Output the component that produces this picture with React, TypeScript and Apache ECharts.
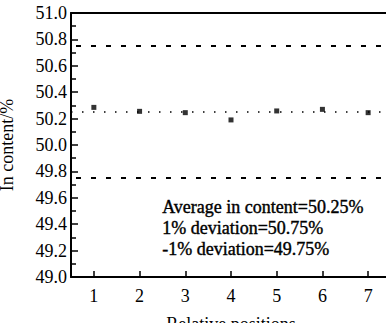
import React, { useEffect, useRef } from "react";
import * as echarts from "echarts";

const positions = ["1", "2", "3", "4", "5", "6", "7"];
const contentValues = [50.285, 50.255, 50.245, 50.19, 50.258, 50.27, 50.245];
const averageContent = 50.25;
const upperDeviation = 50.75;
const lowerDeviation = 49.75;
const yMin = 49;
const yMax = 51;
const yMajorStep = 0.2;
const annotationLines = [
  "Average in content=50.25%",
  "1% deviation=50.75%",
  "-1% deviation=49.75%",
];

const FONT = "Liberation Serif";

export default function App() {
  const ref = useRef<HTMLDivElement>(null);
  useEffect(() => {
    if (!ref.current) return;
    const chart = echarts.init(ref.current, undefined, { renderer: "svg" });
    chart.setOption({
      animation: false,
      backgroundColor: "#fff",
      grid: {
        left: 71,
        top: 13,
        width: 320,
        height: 264,
        show: false,
        containLabel: false,
        outerBoundsMode: "none",
      },
      xAxis: [
        {
          type: "category",
          data: positions,
          boundaryGap: true,
          name: "Relative positions",
          nameLocation: "middle",
          nameGap: 38,
          nameTextStyle: { fontFamily: FONT, fontSize: 18, color: "#000" },
          axisLine: { show: true, lineStyle: { color: "#000", width: 2 } },
          axisTick: { show: true, inside: true, alignWithLabel: true, length: 6, lineStyle: { color: "#000", width: 1.5 } },
          axisLabel: { fontFamily: FONT, fontSize: 18, color: "#000", margin: 10 },
          splitLine: { show: false },
        },
        {
          type: "category",
          data: positions,
          position: "top",
          axisLine: { show: true, lineStyle: { color: "#000", width: 2 } },
          axisTick: { show: false },
          axisLabel: { show: false },
          splitLine: { show: false },
        },
      ],
      yAxis: {
        type: "value",
        min: yMin,
        max: yMax,
        interval: yMajorStep,
        name: "In content/%",
        nameLocation: "middle",
        nameGap: 55,
        nameTextStyle: { fontFamily: FONT, fontSize: 18, color: "#000" },
        axisLine: { show: true, lineStyle: { color: "#000", width: 2 } },
        axisTick: { show: true, inside: true, length: 7, lineStyle: { color: "#000", width: 1.5 } },
        minorTick: { show: true, splitNumber: 2, length: 5, lineStyle: { color: "#000", width: 1.5 } },
        axisLabel: {
          show: true,
          fontFamily: FONT,
          fontSize: 18,
          color: "#000",
          margin: 4,
          formatter: (v: number) => v.toFixed(1),
        },
        splitLine: { show: false },
      },
      series: [
        {
          type: "scatter",
          data: contentValues,
          symbol: "rect",
          symbolSize: 5,
          itemStyle: { color: "#000" },
          markLine: {
            silent: true,
            symbol: "none",
            label: { show: false },
            data: [
              { yAxis: upperDeviation, lineStyle: { type: [5, 10], dashOffset: 10, width: 2, color: "#000" } },
              { yAxis: lowerDeviation, lineStyle: { type: [5, 10], dashOffset: 10, width: 2, color: "#000" } },
              { yAxis: averageContent, lineStyle: { type: [1.5, 9.5], width: 1.5, color: "#000" } },
            ],
          },
        },
      ],
      graphic: annotationLines.map((t, i) => ({
        type: "text",
        left: 162,
        top: 198 + i * 21,
        style: { text: t, fontFamily: FONT, fontSize: 18, fill: "#000", stroke: "#000", lineWidth: 0.4 },
      })),
    });
    return () => chart.dispose();
  }, []);
  return <div ref={ref} style={{ position: "fixed", left: 0, top: 0, width: 400, height: 323 }} />;
}
